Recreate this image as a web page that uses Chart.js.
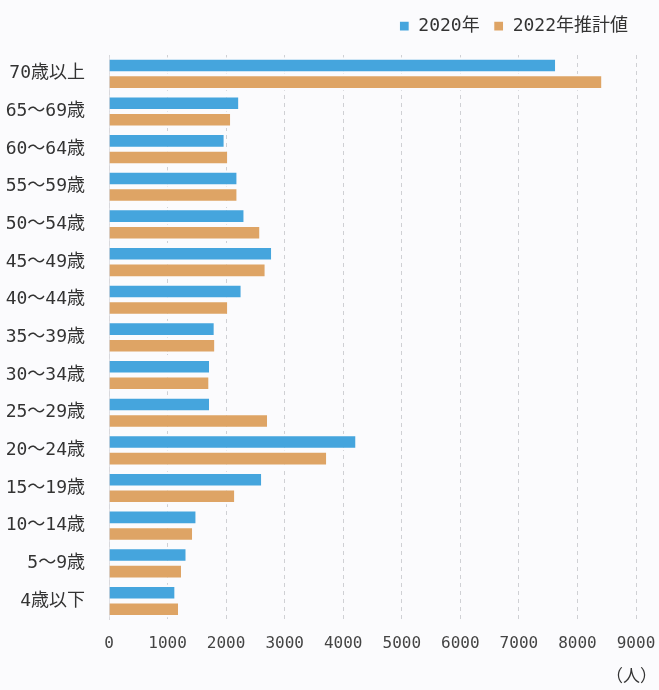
<!DOCTYPE html>
<html>
<head>
<meta charset="utf-8">
<script src="https://cdn.jsdelivr.net/npm/chart.js@4"></script>
<style>
  html, body { margin: 0; padding: 0; background: #fbfbfd; }
  #wrap { width: 659px; height: 690px; }
</style>
</head>
<body>
<div id="wrap"><canvas id="ageChart"></canvas></div>
<script>
// 年齢区分（上から順）
const ageGroups = ["70歳以上", "65～69歳", "60～64歳", "55～59歳", "50～54歳", "45～49歳",
  "40～44歳", "35～39歳", "30～34歳", "25～29歳", "20～24歳", "15～19歳",
  "10～14歳", "5～9歳", "4歳以下"];

// 人数
const values2020 = [7620, 2210, 1960, 2180, 2300, 2770, 2250, 1790, 1710, 1710, 4210, 2600, 1480, 1310, 1120];
const values2022 = [8410, 2070, 2020, 2180, 2570, 2660, 2020, 1800, 1700, 2700, 3710, 2140, 1420, 1230, 1180];

const xTicks = [0, 1000, 2000, 3000, 4000, 5000, 6000, 7000, 8000, 9000];
const unitLabel = "（人）";

const blue = "#45a5dd";
const orange = "#dea465";
const bg = "#fbfbfd";
const labelFont = "'DejaVu Sans Mono', 'Noto Sans CJK JP'";

// 凡例の高さと右端を調整
const legendTweak = {
  id: "legendTweak",
  beforeInit(chart) {
    const origFit = chart.legend.fit;
    chart.legend.fit = function () {
      origFit.bind(chart.legend)();
      this.height = 52;
    };
  },
  beforeDraw(chart) {
    chart.legend.right = chart.width - 17;
  }
};

// 単位ラベル（人）
const unitText = {
  id: "unitText",
  afterDraw(chart) {
    const ctx = chart.ctx;
    ctx.save();
    ctx.font = "17px 'Noto Sans CJK JP'";
    ctx.fillStyle = "#333";
    ctx.textAlign = "right";
    ctx.textBaseline = "middle";
    ctx.fillText(unitLabel, chart.width - 2, 676);
    ctx.restore();
  }
};

new Chart(document.getElementById("ageChart"), {
  type: "bar",
  data: {
    labels: ageGroups,
    datasets: [
      {
        label: "2020年",
        data: values2020,
        backgroundColor: blue,
        borderColor: bg,
        borderWidth: { top: 2.5, bottom: 2.5, left: 0, right: 0 },
        borderSkipped: false,
      },
      {
        label: "2022年推計値",
        data: values2022,
        backgroundColor: orange,
        borderColor: bg,
        borderWidth: { top: 2.5, bottom: 2.5, left: 0, right: 0 },
        borderSkipped: false,
      },
    ],
  },
  plugins: [legendTweak, unitText],
  options: {
    indexAxis: "y",
    responsive: true,
    maintainAspectRatio: false,
    animation: false,
    layout: { padding: { top: 3, right: 1, bottom: 23, left: 4 } },
    datasets: {
      bar: { categoryPercentage: 0.88, barPercentage: 1.0 },
    },
    plugins: {
      legend: {
        position: "top",
        align: "end",
        labels: {
          boxWidth: 10,
          boxHeight: 10,
          padding: 14,
          color: "#333",
          font: { family: labelFont, size: 18 },
        },
      },
      tooltip: { enabled: false },
    },
    scales: {
      x: {
        min: 0,
        max: 9000,
        afterBuildTicks(scale) {
          scale.ticks = xTicks.map((v) => ({ value: v }));
        },
        afterFit(scale) {
          scale.paddingRight = 23;
        },
        grid: {
          color: "#cfd0d4",
          lineWidth: 1,
          drawTicks: false,
        },
        border: { display: true, color: "rgba(0,0,0,0)", dash: [4, 4] },
        ticks: {
          padding: 14,
          color: "#444",
          font: { family: "'DejaVu Sans Mono'", size: 16 },
          callback: (v) => String(v),
        },
      },
      y: {
        afterFit(scale) {
          scale.width = 105;
        },
        grid: { display: false },
        border: { display: true, color: "#d8d8dc" },
        ticks: {
          padding: 16,
          color: "#333",
          font: { family: labelFont, size: 18 },
        },
      },
    },
  },
});
</script>
</body>
</html>
